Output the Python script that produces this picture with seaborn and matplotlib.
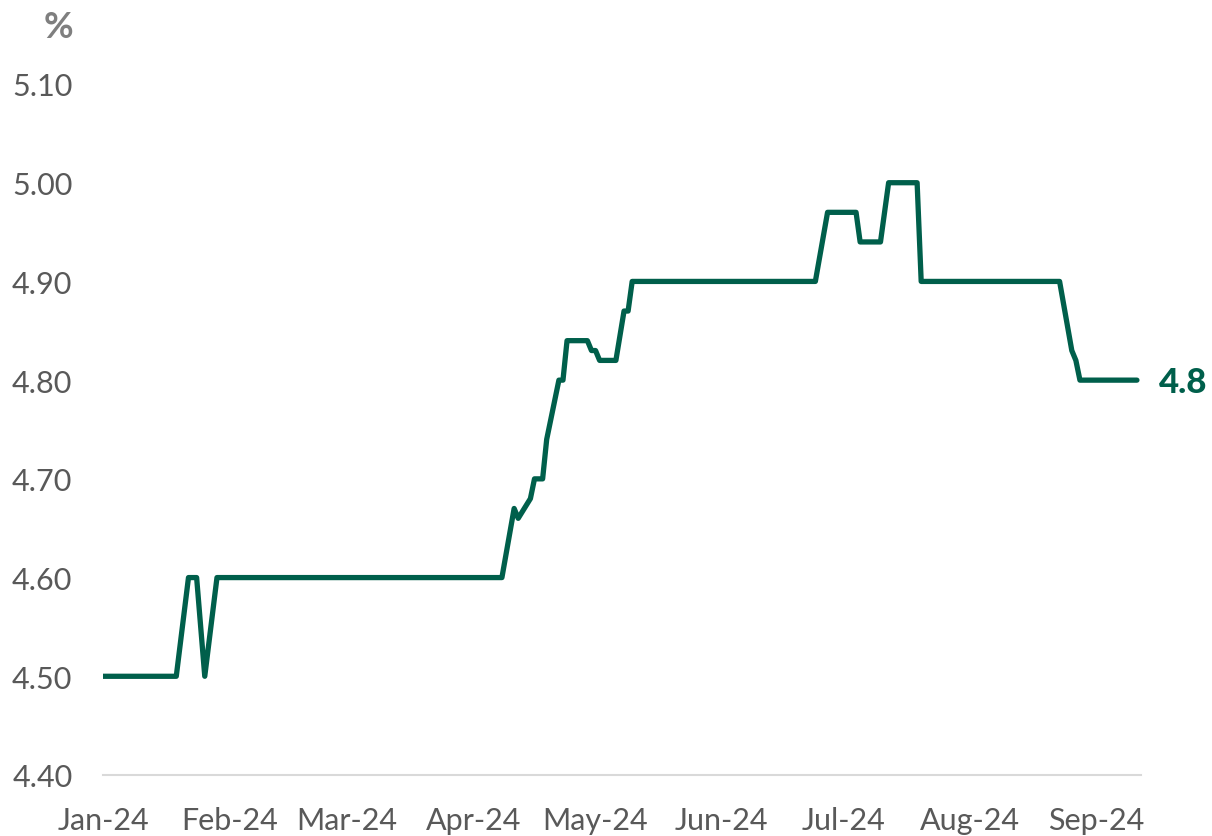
import matplotlib
matplotlib.use("Agg")
import matplotlib.pyplot as plt
import matplotlib.dates as mdates
import seaborn as sns
import pandas as pd

# Data: vertices of the rate series (date, %)
dates = ["2024-01-01", "2024-01-19", "2024-01-22", "2024-01-24", "2024-01-26",
         "2024-01-29", "2024-04-08", "2024-04-11", "2024-04-12", "2024-04-15",
         "2024-04-16", "2024-04-18", "2024-04-19", "2024-04-22", "2024-04-23",
         "2024-04-24", "2024-04-29", "2024-04-30", "2024-05-01", "2024-05-02",
         "2024-05-06", "2024-05-08", "2024-05-09", "2024-05-10", "2024-06-24",
         "2024-06-27", "2024-07-04", "2024-07-05", "2024-07-10", "2024-07-12",
         "2024-07-19", "2024-07-20", "2024-08-23", "2024-08-26", "2024-08-27",
         "2024-08-28", "2024-09-11"]
values = [4.50, 4.50, 4.60, 4.60, 4.50,
          4.60, 4.60, 4.67, 4.66, 4.68,
          4.70, 4.70, 4.74, 4.80, 4.80,
          4.84, 4.84, 4.83, 4.83, 4.82,
          4.82, 4.87, 4.87, 4.90, 4.90,
          4.97, 4.97, 4.94, 4.94, 5.00,
          5.00, 4.90, 4.90, 4.83, 4.82,
          4.80, 4.80]
y_ticks = [4.40, 4.50, 4.60, 4.70, 4.80, 4.90, 5.00, 5.10]
unit_label = "%"
end_label = "4.8"

df = pd.DataFrame({"date": pd.to_datetime(dates), "value": values})

GREEN = "#005F4B"
GREY_TXT = "#595959"

sns.set_theme(style="white")
plt.rcParams["font.family"] = ["Lato", "DejaVu Sans"]

fig = plt.figure(figsize=(12.12, 8.37), dpi=100)
ax = fig.add_axes([103 / 1212, 1 - 776 / 837, (1141 - 103) / 1212, (776 - 85) / 837])

sns.lineplot(data=df, x="date", y="value", ax=ax, color=GREEN, linewidth=3.8,
             solid_capstyle="round", solid_joinstyle="round")

ax.set_xlim(pd.Timestamp("2024-01-01"), pd.Timestamp("2024-09-12"))
ax.set_ylim(4.40, 5.10)
ax.set_yticks(y_ticks)
ax.set_yticklabels([f"{v:.2f}" for v in y_ticks])
ax.xaxis.set_major_locator(mdates.MonthLocator())
ax.xaxis.set_major_formatter(mdates.DateFormatter("%b-%y"))

ax.set_xlabel("")
ax.set_ylabel("")
for s in ["top", "right", "left"]:
    ax.spines[s].set_visible(False)
ax.spines["bottom"].set_color("#D9D9D9")
ax.spines["bottom"].set_linewidth(1.5)

ax.tick_params(axis="x", colors="#D9D9D9", length=8, width=1.5, direction="out",
               labelcolor=GREY_TXT, labelsize=22, pad=14)
ax.tick_params(axis="y", length=0, labelcolor=GREY_TXT, labelsize=22, pad=22)

# end label
ax.annotate(end_label, xy=(df["date"].iloc[-1], df["value"].iloc[-1]),
            xytext=(16, -1), textcoords="offset points", ha="left", va="center",
            color=GREEN, fontsize=25, fontweight="black")

fig.text(58 / 1212, 1 - 28 / 837, unit_label, ha="center", va="center",
         color="#7F7F7F", fontsize=26, fontweight="bold")

fig.savefig("out.png", dpi=100)
